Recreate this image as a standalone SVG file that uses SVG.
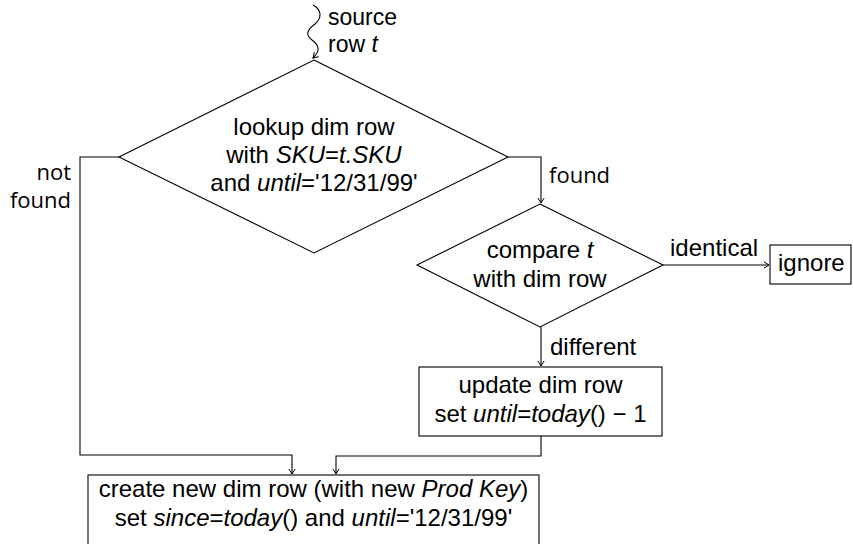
<svg xmlns="http://www.w3.org/2000/svg" width="853" height="544" viewBox="0 0 853 544">
  <style>
    .shape { fill: #fff; stroke: #000; stroke-width: 1.1; }
    .edge { fill: none; stroke: #000; stroke-width: 1.1; }
    text { font-family: "Liberation Sans", Arial, sans-serif; font-size: 24px; fill: #000; }
    .mid { text-anchor: middle; }
    .lbl { font-family: "Open Sans", "Noto Sans", sans-serif; font-size: 22px; }
    .src { font-size: 23px; }
    .it { font-style: italic; }
  </style>
  <defs>
    <marker id="tip" viewBox="-6 -4 7 8" markerWidth="7" markerHeight="8" refX="0" refY="0" orient="auto" markerUnits="userSpaceOnUse">
      <path d="M-5,-3.2 Q-1.5,-0.8 0,0 Q-1.5,0.8 -5,3.2" fill="none" stroke="#000" stroke-width="1"/>
    </marker>
  </defs>
  <rect width="853" height="544" fill="#fff"/>

  <g id="connectors">
    <!-- snake line: incoming source row -->
    <path class="edge" d="M313,5 C322,10 322,18 315,24 C307,30 305,35 312,40 C320,46 320,51 313,58" marker-end="url(#tip)"/>
    <path class="edge" d="M119,157 H80 V455 H292 V474" marker-end="url(#tip)"/>
    <path class="edge" d="M508,157 H541 V203" marker-end="url(#tip)"/>
    <path class="edge" d="M663,265 H769" marker-end="url(#tip)"/>
    <path class="edge" d="M541,327 V366" marker-end="url(#tip)"/>
    <path class="edge" d="M541,436 V456 H336 V474" marker-end="url(#tip)"/>
    <text class="src" x="328" y="25">source</text>
    <text class="src" x="328" y="52">row <tspan class="it">t</tspan></text>
    <text class="lbl" x="71" y="180" text-anchor="end">not</text>
    <text class="lbl" x="71" y="208" text-anchor="end">found</text>
    <text class="lbl" x="549" y="183">found</text>
    <text x="670" y="256">identical</text>
    <text x="550" y="355">different</text>
  </g>

  <g id="lookup">
    <polygon class="shape" points="314,60 508,157 314,253 119,157"/>
    <text class="mid" x="314" y="135">lookup dim row</text>
    <text class="mid" x="314" y="163">with <tspan class="it">SKU</tspan>=<tspan class="it">t.SKU</tspan></text>
    <text class="mid" x="314" y="191">and <tspan class="it">until</tspan>='12/31/99'</text>
  </g>

  <g id="compare">
    <polygon class="shape" points="540,204 663,265 540,327 417,265"/>
    <text class="mid" x="540" y="258">compare <tspan class="it">t</tspan></text>
    <text class="mid" x="540" y="287">with dim row</text>
  </g>

  <g id="ignore">
    <rect class="shape" x="770" y="245" width="81" height="39"/>
    <text x="778" y="271">ignore</text>
  </g>

  <g id="update">
    <rect class="shape" x="419" y="367" width="243" height="69"/>
    <text class="mid" x="540.5" y="393">update dim row</text>
    <text class="mid" x="540.5" y="422">set <tspan class="it">until</tspan>=<tspan class="it">today</tspan>() − 1</text>
  </g>

  <g id="create">
    <rect class="shape" x="88" y="475" width="451" height="90"/>
    <text class="mid" x="313.5" y="497">create new dim row (with new <tspan class="it">Prod Key</tspan>)</text>
    <text class="mid" x="313.5" y="526">set <tspan class="it">since</tspan>=<tspan class="it">today</tspan>() and <tspan class="it">until</tspan>='12/31/99'</text>
  </g>
</svg>
